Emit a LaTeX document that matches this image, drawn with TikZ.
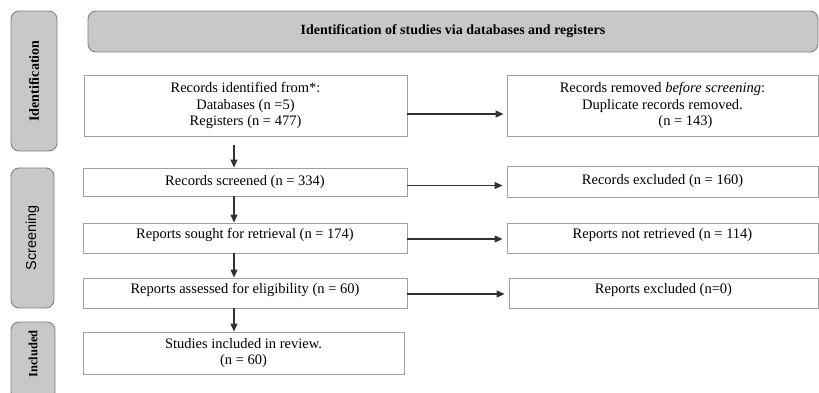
\documentclass[tikz,border=0pt]{standalone}
\usepackage{fontspec}
\setmainfont{Liberation Serif}
\setsansfont{Liberation Sans}
\usetikzlibrary{arrows.meta}
\definecolor{fillgray}{RGB}{200,200,200}
\definecolor{sidegray}{RGB}{128,128,128}
\definecolor{boxgray}{RGB}{160,160,160}
\definecolor{arrgray}{RGB}{50,50,50}
\begin{document}
\begin{tikzpicture}[x=1pt,y=-1pt,
  side/.style={draw=sidegray, fill=fillgray, rounded corners=8pt, line width=0.9pt, inner sep=0pt},
  box/.style={draw=boxgray, line width=0.9pt, fill=white, inner sep=0pt, align=center,
    font=\fontsize{14.5}{16.3}\selectfont},
  toptext/.style={text height=10pt, text depth=10pt},
  arr/.style={draw=arrgray, line width=1.1pt, -{Triangle[length=8pt,width=7pt]}}]
\useasboundingbox (0,0) rectangle (819,392);
\clip (0,0) rectangle (819,392);
\fill[white] (0,0) rectangle (819,392);

% side labels
\node[side, minimum width=140pt, minimum height=46pt, rotate=90,
  font=\fontsize{14}{16}\selectfont\bfseries] (sid) at (34,81) {Identification};
\node[side, minimum width=140pt, minimum height=43pt, rotate=90,
  font=\fontsize{14.4}{16}\selectfont\sffamily] (sscr) at (32.5,238) {Screening};
\node[side, minimum width=78pt, minimum height=44pt, rotate=90,
  font=\fontsize{12.5}{14}\selectfont\bfseries] (sinc) at (33,361) {\hspace*{14pt}Included};

% header
\node[side, minimum width=730pt, minimum height=41pt,
  font=\fontsize{14}{16}\selectfont\bfseries] (head) at (453,31.5)
  {Identification of studies via databases and registers};

% left column
\node[box, minimum width=323pt, minimum height=61pt] (b1) at (245.5,105.5)
  {Records identified from*:\\ Databases (n =5)\\ Registers (n = 477)};
\node[box, minimum width=324pt, minimum height=28pt] (b2) at (245,182)
  {Records screened (n = 334)};
\node[box, toptext, minimum width=324pt, minimum height=30pt] (b3) at (245,238)
  {Reports sought for retrieval (n = 174)};
\node[box, toptext, minimum width=324pt, minimum height=30pt] (b4) at (245,293)
  {Reports assessed for eligibility (n = 60)};
\node[box, minimum width=321pt, minimum height=42pt] (b5) at (243.5,353)
  {Studies included in review.\\ (n = 60)};

% right column
\node[box, minimum width=311pt, minimum height=61pt] (rem) at (662.5,105.5)
  {Records removed \textit{before screening}:\\ Duplicate records removed.\\ \hspace*{46pt}(n = 143)};
\node[box, minimum width=311pt, minimum height=31pt] (exc1) at (662.5,181.5)
  {Records excluded (n = 160)};
\node[box, toptext, minimum width=311pt, minimum height=30pt] (nr) at (662.5,238)
  {Reports not retrieved (n = 114)};
\node[box, toptext, minimum width=309pt, minimum height=30pt] (exc2) at (663.5,293)
  {Reports excluded (n=0)};

% vertical arrows
\draw[arr] ([xshift=-11.5pt,yshift=-9pt]b1.south) -- ([xshift=-11pt]b2.north);
\draw[arr] ([xshift=-11pt]b2.south) -- ([xshift=-11pt]b3.north);
\draw[arr] ([xshift=-11pt]b3.south) -- ([xshift=-11pt]b4.north);
\draw[arr] ([xshift=-11pt]b4.south) -- ([xshift=-9.5pt]b5.north);

% horizontal arrows
\draw[arr] ([yshift=-8.5pt]b1.east) -- ([xshift=-3pt,yshift=-8.5pt]rem.west);
\draw[arr] ([yshift=-3.5pt]b2.east) -- ([xshift=-4pt,yshift=-4pt]exc1.west);
\draw[arr] ([yshift=-1pt]b3.east) -- ([xshift=-4pt,yshift=-1pt]nr.west);
\draw[arr] ([yshift=-1pt]b4.east) -- ([xshift=-4pt,yshift=-1pt]exc2.west);
\end{tikzpicture}
\end{document}
